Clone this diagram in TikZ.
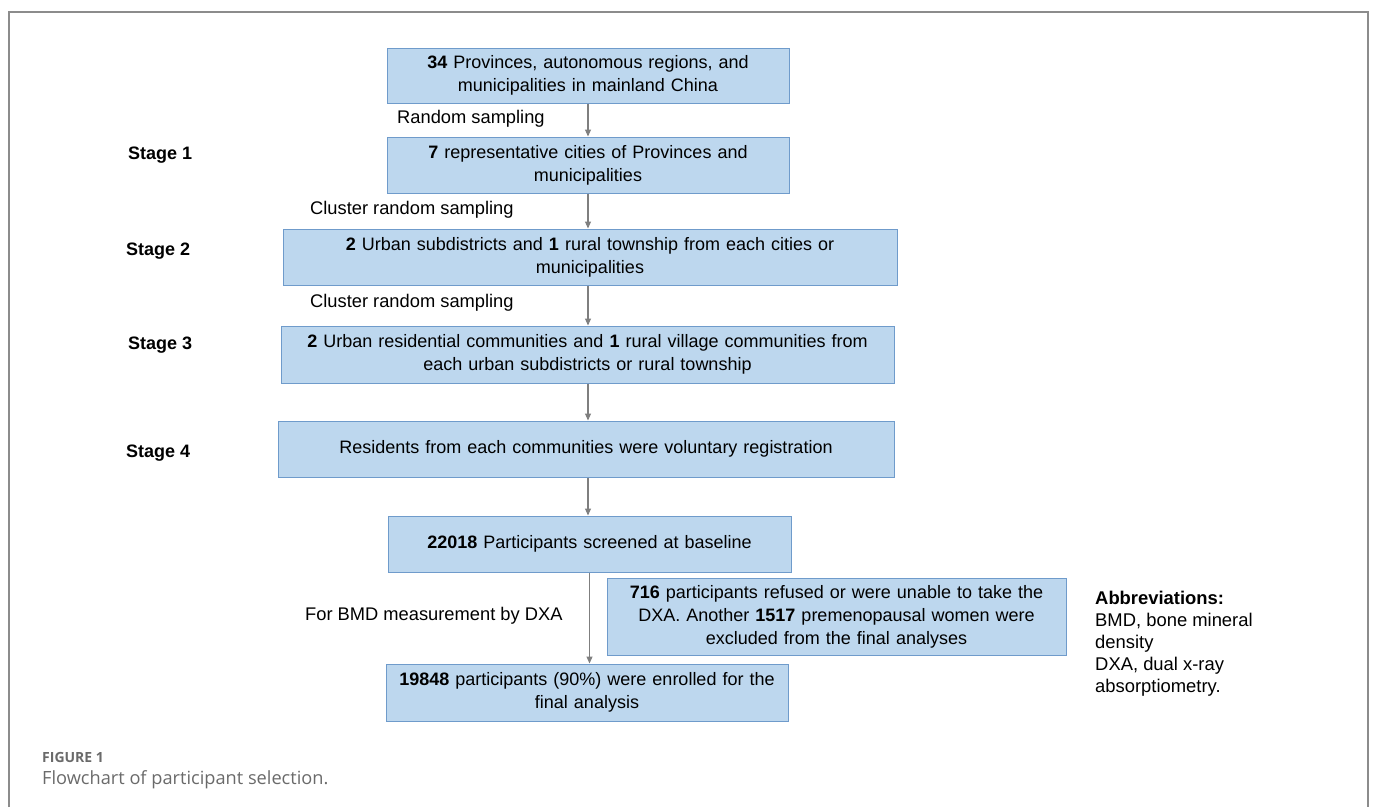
\documentclass[tikz,border=0pt]{standalone}
\usepackage{fontspec}
\setmainfont{Liberation Sans}
\newfontfamily\capfont{Open Sans}
\usetikzlibrary{arrows.meta,calc}
\definecolor{boxfill}{HTML}{BDD7EE}
\definecolor{boxline}{HTML}{6F9BCB}
\definecolor{arrgray}{HTML}{7F7F7F}
\definecolor{framegray}{HTML}{8C8C8C}
\definecolor{capgray}{HTML}{6A6A6A}
\tikzset{
  flowbox/.style={draw=boxline, fill=boxfill, line width=1pt, inner sep=0pt,
    align=center, font=\fontsize{18}{23}\selectfont},
  arr/.style={draw=arrgray, line width=1.1pt, -{Triangle[length=7pt,width=6pt]}},
  lbl/.style={anchor=west, inner sep=0pt, font=\fontsize{18.3}{23}\selectfont},
  stagelbl/.style={anchor=west, inner sep=0pt, font=\fontsize{18}{23}\selectfont\bfseries},
}
\begin{document}
\begin{tikzpicture}[x=1pt,y=-1pt]
\useasboundingbox (0,0) rectangle (1375,807);
% frame
\draw[framegray, line width=2pt] (9,807) -- (9,12) -- (1368,12) -- (1368,807);

\node[flowbox, text width=402pt, minimum height=55pt] (b1) at (588,75.5)
  {\textbf{34} Provinces, autonomous regions, and\\ municipalities in  mainland China};
\node[flowbox, text width=402pt, minimum height=56pt] (b2) at (588,165)
  {\textbf{7} representative cities of Provinces and\\ municipalities};
\node[flowbox, text width=614pt, minimum height=56pt] (b3) at (590,257)
  {\textbf{2} Urban subdistricts and \textbf{1} rural  township from each cities or\\ municipalities};
\node[flowbox, text width=613pt, minimum height=57pt] (b4) at (587.5,354.5)
  {\textbf{2} Urban residential communities and \textbf{1} rural  village communities from\\ each urban subdistricts or rural township};
\node[flowbox, text width=616pt, minimum height=56pt] (b5) at (586,449)
  {Residents from each communities were voluntary registration};
\node[flowbox, text width=403pt, minimum height=56pt] (b6) at (589.5,544)
  {\textbf{22018} Participants screened at baseline};
\node[flowbox, text width=459pt, minimum height=77pt] (b7) at (836.5,616.5)
  {\textbf{716} participants refused or were unable to take the\\ DXA. Another \textbf{1517} premenopausal women were\\ excluded from the final analyses};
\node[flowbox, text width=402pt, minimum height=57pt] (b8) at (587,692.5)
  {\textbf{19848} participants (90\%) were enrolled for the\\ final analysis};

\draw[arr] (b1.south) -- (b1.south |- b2.north);
\draw[arr] (b2.south) -- (b2.south |- b3.north);
\draw[arr] (b2.south |- b3.south) -- (b2.south |- b4.north);
\draw[arr] (b2.south |- b4.south) -- (b2.south |- b5.north);
\draw[arr] (b2.south |- b5.south) -- (b2.south |- b6.north);
\draw[arr] (b6.south) -- (b6.south |- b8.north);

\node[lbl] (l1) at (397,119) {Random sampling};
\node[lbl] (l2) at (310,210) {Cluster random sampling};
\node[lbl] (l3) at (310,303) {Cluster random sampling};
\node[lbl] (l4) at (305,616) {For BMD measurement by DXA};

\node[stagelbl] (s1) at (128,155) {Stage 1};
\node[stagelbl] (s2) at (126,251) {Stage 2};
\node[stagelbl] (s3) at (128,345) {Stage 3};
\node[stagelbl] (s4) at (126,453) {Stage 4};

\node[anchor=north west, inner sep=0pt, align=left, font=\fontsize{18.4}{22}\selectfont] (abbr) at (1095,591)
  {\textbf{Abbreviations:}\\ BMD, bone mineral\\ density\\ DXA, dual x-ray\\ absorptiometry.};

\node[anchor=west, inner sep=0pt, text=capgray, font=\capfont\fontsize{14}{16}\selectfont\bfseries] (fig) at (42,757) {FIGURE 1};
\node[anchor=west, inner sep=0pt, text=capgray, font=\capfont\fontsize{18.2}{20}\selectfont] (cap) at (42,780) {Flowchart of participant selection.};
\end{tikzpicture}
\end{document}
